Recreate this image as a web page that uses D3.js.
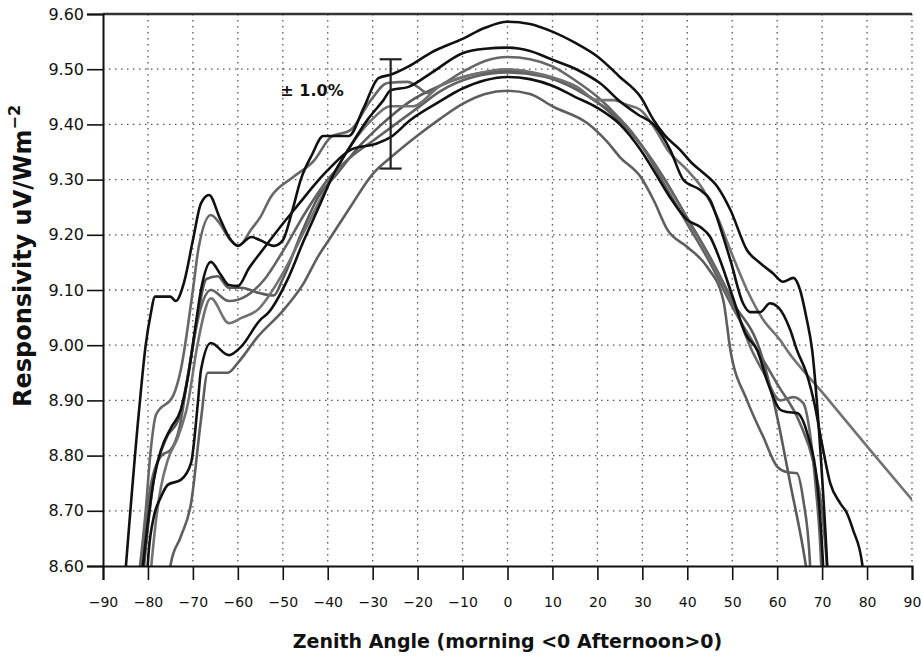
<!DOCTYPE html>
<html><head><meta charset="utf-8">
<script src="https://cdn.jsdelivr.net/npm/d3@7"></script>
<style>
body{margin:0;background:#fff;}
svg{display:block;}
</style></head>
<body>
<svg id="chart" width="921" height="656"></svg>
<script>
// ---- data: [zenith angle, responsivity] ----
const curveA = [[-84.9,8.60],[-82,8.88],[-80.5,9.00],[-79.3,9.06],[-78.5,9.088],[-75,9.088],[-73.8,9.08],[-72,9.113],[-70,9.19],[-68.2,9.257],[-66.4,9.272],[-64,9.23],[-62,9.196],[-60,9.18],[-57,9.196],[-55,9.19],[-52,9.18],[-50,9.19],[-48,9.24],[-46,9.30],[-43.5,9.345],[-41,9.379],[-35.3,9.379],[-32,9.43],[-28.7,9.484],[-26,9.49],[-22,9.505],[-17,9.53],[-10,9.555],[-5,9.575],[0,9.586],[5,9.582],[10,9.568],[15,9.548],[20,9.523],[25,9.486],[29.6,9.45],[32.5,9.408],[35,9.38],[38.4,9.354],[41,9.33],[43.6,9.312],[46.7,9.287],[49.6,9.245],[53.3,9.172],[56.2,9.149],[59.1,9.13],[61.3,9.115],[63.6,9.122],[65.1,9.10],[66.5,9.05],[67.8,8.99],[69.6,8.81],[71.1,8.605],[71.3,8.57]];
const curveB = [[-80.3,8.57],[-79.8,8.629],[-78.7,8.689],[-77.1,8.725],[-75.6,8.747],[-72.7,8.756],[-70.4,8.787],[-68.9,8.895],[-68.2,8.955],[-66,9.004],[-62,8.982],[-59.3,8.997],[-55,9.046],[-53.3,9.058],[-49,9.118],[-45.3,9.19],[-41.6,9.257],[-39.3,9.30],[-35,9.36],[-31,9.41],[-27.6,9.444],[-26,9.462],[-22,9.468],[-17,9.493],[-10,9.529],[-5,9.537],[0,9.539],[5,9.533],[10,9.517],[15.5,9.499],[20.7,9.474],[25.1,9.441],[29,9.418],[32.5,9.40],[36.2,9.354],[39.1,9.30],[42.9,9.281],[45.1,9.263],[47.3,9.214],[49.6,9.154],[52.4,9.076],[54,9.06],[56.2,9.06],[58.4,9.076],[60.2,9.069],[62.9,9.028],[64.4,8.991],[66.5,8.95],[68.4,8.89],[70,8.82],[71.8,8.75],[74,8.714],[75.5,8.696],[76.9,8.665],[78.9,8.605],[79.3,8.57]];
const curveF = [[-81.5,8.57],[-80,8.68],[-78.7,8.756],[-77.1,8.81],[-74.9,8.85],[-72.7,8.883],[-71.1,8.942],[-69.5,9.03],[-68.2,9.10],[-66,9.151],[-64,9.13],[-62,9.109],[-60,9.107],[-57.5,9.14],[-55,9.167],[-50,9.22],[-46,9.26],[-43,9.29],[-40,9.317],[-34.9,9.354],[-28.9,9.366],[-26,9.377],[-21.6,9.408],[-15.6,9.439],[-10,9.465],[-5,9.48],[0,9.486],[5,9.482],[10,9.47],[15,9.45],[20,9.43],[25,9.40],[29.6,9.354],[33,9.31],[36,9.27],[40,9.227],[42.9,9.214],[45.1,9.196],[47.3,9.154],[50,9.09],[53,9.02],[55.6,8.99],[58,8.93],[60.7,8.883],[62.2,8.879],[64.4,8.877],[66.7,8.84],[68.9,8.75],[70.2,8.605],[70.4,8.57]];
const curveC = [[-82.2,8.57],[-80.5,8.70],[-79.5,8.80],[-78.2,8.874],[-74.3,8.91],[-72.7,8.955],[-70,9.10],[-68.7,9.178],[-66,9.236],[-64,9.22],[-62,9.194],[-59.8,9.18],[-57,9.21],[-55,9.232],[-52.7,9.268],[-47.6,9.305],[-43,9.335],[-39.3,9.377],[-34.9,9.39],[-30.4,9.444],[-26.7,9.475],[-22.2,9.477],[-20,9.468],[-17.8,9.457],[-15,9.47],[-10,9.495],[-5,9.515],[0,9.522],[5,9.518],[10,9.505],[15,9.48],[20,9.45],[25,9.41],[30,9.36],[35,9.30],[40,9.23],[45,9.16],[50,9.08],[54.4,8.99],[57,8.95],[60.7,8.90],[63.6,8.906],[65.8,8.895],[67.3,8.84],[68.5,8.75],[69.5,8.65],[70,8.57]];
const curveD = [[-79.6,8.57],[-78.2,8.683],[-77.1,8.743],[-75.6,8.792],[-73.3,8.834],[-71.1,8.895],[-69,9.00],[-66,9.085],[-62,9.04],[-59.3,9.049],[-55.6,9.064],[-50,9.13],[-45,9.21],[-40,9.29],[-35,9.36],[-30,9.41],[-26,9.433],[-21,9.433],[-15,9.47],[-8,9.49],[0,9.50],[8,9.49],[15.5,9.468],[20,9.444],[23.6,9.444],[26.7,9.435],[29.6,9.426],[33,9.39],[35.6,9.354],[40,9.317],[43.6,9.281],[46.7,9.232],[49.6,9.172],[53.3,9.10],[56.9,9.046],[60.7,9.009],[62.2,8.991],[70,8.915],[80.7,8.81],[90,8.72]];
const curveE = [[-81.2,8.57],[-79,8.74],[-76,8.83],[-73,8.87],[-71,8.95],[-69,9.05],[-67,9.12],[-64.5,9.125],[-62,9.104],[-59.3,9.104],[-55,9.094],[-52,9.09],[-50,9.12],[-46,9.20],[-42,9.27],[-38,9.31],[-33,9.36],[-28,9.40],[-22,9.44],[-15,9.47],[-8,9.49],[0,9.497],[8,9.488],[15,9.465],[20,9.44],[25,9.405],[30,9.36],[35,9.30],[40,9.23],[45,9.16],[50,9.08],[56.2,8.99],[60,8.87],[62.9,8.75],[65.8,8.63],[67,8.57]];
const curveE2 = [[-81.8,8.57],[-79.5,8.74],[-77,8.80],[-75,8.81],[-73,8.85],[-71,8.95],[-68.5,9.06],[-66,9.10],[-62,9.08],[-58,9.09],[-54,9.12],[-50,9.17],[-45,9.24],[-40,9.30],[-35,9.34],[-30,9.37],[-25,9.40],[-20,9.43],[-15,9.46],[-8,9.485],[0,9.494],[8,9.487],[15,9.465],[20,9.44],[25,9.41],[30,9.36],[35,9.29],[40,9.22],[45,9.15],[50,9.07],[55,9.00],[60,8.93],[65,8.86],[68,8.79],[70,8.70],[71.4,8.57]];
const curveG = [[-75.5,8.57],[-74.9,8.605],[-72.7,8.653],[-70.4,8.714],[-68.2,8.865],[-66.7,8.95],[-62.2,8.95],[-60,8.968],[-55.6,9.015],[-49.8,9.064],[-45.3,9.113],[-42.2,9.16],[-39.3,9.196],[-35,9.25],[-30,9.31],[-26,9.34],[-20,9.38],[-15,9.41],[-10,9.437],[-5,9.455],[0,9.461],[5,9.455],[10.2,9.432],[17.8,9.402],[22,9.37],[25.1,9.34],[29.6,9.305],[32.5,9.263],[35.6,9.209],[40,9.178],[44.4,9.142],[48,9.082],[49.6,8.991],[53.3,8.90],[56.9,8.834],[60,8.78],[62.2,8.77],[64.4,8.768],[65.8,8.72],[67.3,8.605],[67.5,8.57]];

const seriesNames = ["G","E","E2","C","D","F","B","A"];
const seriesColors = ["#5e5e5e","#5a5a5a","#626262","#676767","#727272","#111111","#111111","#111111"];
const seriesData = [curveG, curveE, curveE2, curveC, curveD, curveF, curveB, curveA];

const xTicks = [-90,-80,-70,-60,-50,-40,-30,-20,-10,0,10,20,30,40,50,60,70,80,90];
const yTicks = [8.6,8.7,8.8,8.9,9.0,9.1,9.2,9.3,9.4,9.5,9.6];
const errorBar = {angle:-26, low:9.32, high:9.518, label:"± 1.0%"};
const xTitle = "Zenith Angle (morning <0 Afternoon>0)";
const yTitle = "Responsivity uV/Wm";
const yTitleSup = "−2";

// ---- layout ----
const svg = d3.select("#chart");
const L = 103, R = 912, T = 14, B = 566;
const x = d3.scaleLinear().domain([-90,90]).range([L,R]);
const y = d3.scaleLinear().domain([8.6,9.6]).range([B,T]);
const FONT = "'DejaVu Sans', Verdana, sans-serif";

svg.append("defs").append("clipPath").attr("id","clip")
  .append("rect").attr("x",L).attr("y",T).attr("width",R-L).attr("height",B-T);

// grid
const grid = svg.append("g");
grid.selectAll("line.v").data(xTicks.filter(d=>d>-90)).join("line")
  .attr("x1",d=>x(d)).attr("x2",d=>x(d)).attr("y1",T).attr("y2",B)
  .attr("stroke","#555").attr("stroke-width",1.3).attr("stroke-dasharray","1.5,4.5");
grid.selectAll("line.h").data(yTicks.filter(d=>d>8.65 && d<9.55)).join("line")
  .attr("x1",L).attr("x2",R).attr("y1",d=>y(d)).attr("y2",d=>y(d))
  .attr("stroke","#555").attr("stroke-width",1.3).attr("stroke-dasharray","1.5,4.5");
// top frame
svg.append("line").attr("x1",L).attr("x2",R).attr("y1",T).attr("y2",T)
  .attr("stroke","#333").attr("stroke-width",2.5);

// curves
const line = d3.line().x(d=>x(d[0])).y(d=>y(d[1])).curve(d3.curveMonotoneX);
svg.append("g").attr("clip-path","url(#clip)")
  .selectAll("path").data(seriesData).join("path")
  .attr("d",line).attr("fill","none")
  .attr("stroke",(d,i)=>seriesColors[i]).attr("stroke-width",2.6)
  .attr("stroke-linejoin","round").attr("stroke-linecap","round");

// axes
const xAxis = d3.axisBottom(x).tickValues(xTicks).tickSize(14).tickPadding(17)
  .tickFormat(d3.format("d"));
const gx = svg.append("g").attr("transform",`translate(0,${B})`).call(xAxis);
gx.select(".domain").attr("stroke","#111").attr("stroke-width",2);
gx.selectAll(".tick line").attr("stroke","#111").attr("stroke-width",1.6);
gx.selectAll("text").attr("font-family",FONT).attr("font-size",14).attr("fill","#111");

const yAxis = d3.axisLeft(y).tickValues(yTicks).tickSize(16).tickPadding(3)
  .tickFormat(d3.format(".2f"));
const gy = svg.append("g").attr("transform",`translate(${L},0)`).call(yAxis);
gy.select(".domain").attr("stroke","#111").attr("stroke-width",2);
gy.selectAll(".tick line").attr("stroke","#111").attr("stroke-width",1.6);
gy.selectAll("text").attr("font-family",FONT).attr("font-size",16).attr("fill","#111");

// error bar
const eb = svg.append("g").attr("stroke","#222").attr("stroke-width",2.2);
eb.append("line").attr("x1",x(errorBar.angle)).attr("x2",x(errorBar.angle))
  .attr("y1",y(errorBar.high)).attr("y2",y(errorBar.low));
[errorBar.high, errorBar.low].forEach(v=>{
  eb.append("line").attr("x1",x(errorBar.angle)-11).attr("x2",x(errorBar.angle)+11)
    .attr("y1",y(v)).attr("y2",y(v));
});
svg.append("text").attr("x",312).attr("y",96).attr("text-anchor","middle")
  .attr("font-family",FONT).attr("font-weight","bold").attr("font-size",16)
  .attr("fill","#111").text(errorBar.label);

// titles
svg.append("text").attr("x",507.5).attr("y",648).attr("text-anchor","middle")
  .attr("font-family",FONT).attr("font-weight","bold").attr("font-size",19)
  .attr("fill","#111").text(xTitle);
const yt = svg.append("text").attr("transform","translate(31,256) rotate(-90)")
  .attr("text-anchor","middle").attr("font-family",FONT).attr("font-weight","bold")
  .attr("font-size",24).attr("fill","#111");
yt.append("tspan").text(yTitle);
yt.append("tspan").attr("dy",-11).attr("font-size",16).text(yTitleSup);
</script>
</body></html>
